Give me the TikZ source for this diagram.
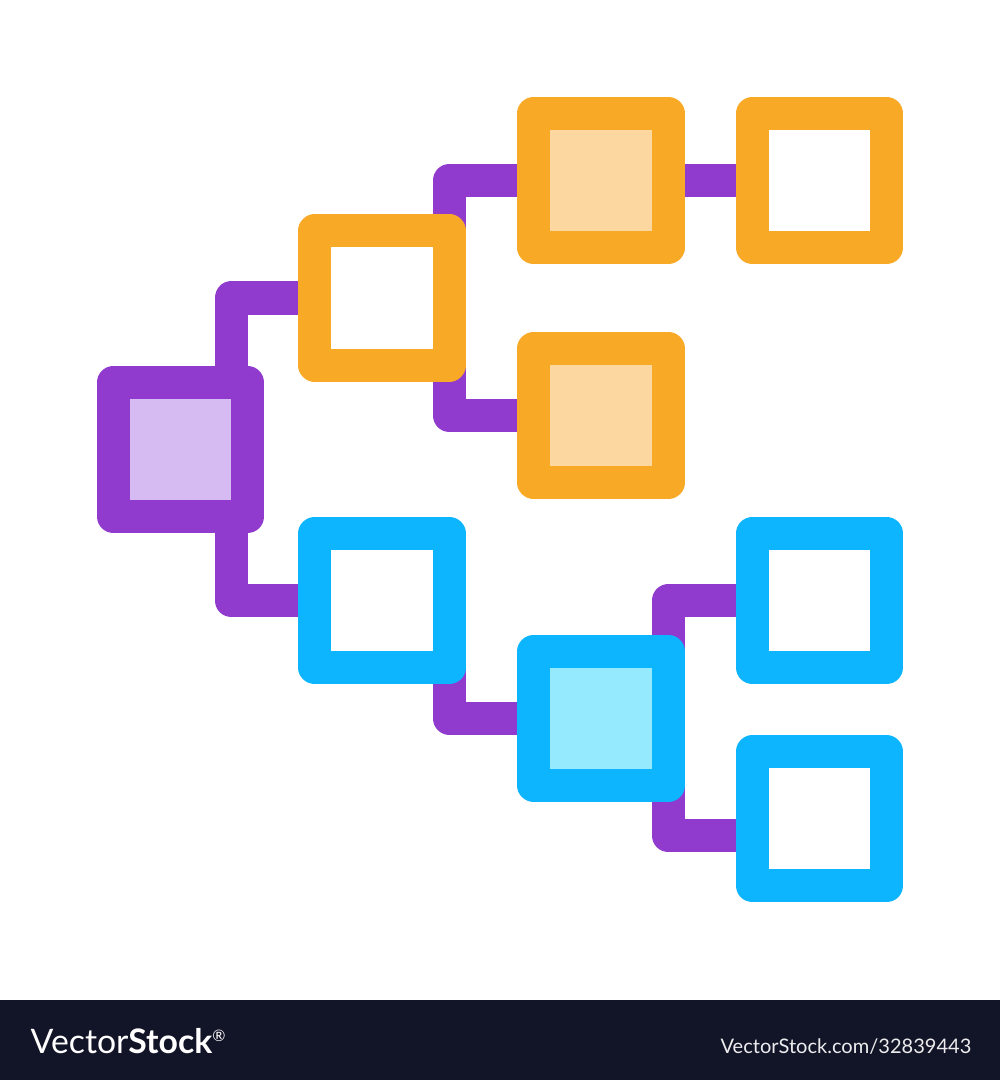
\documentclass[tikz,border=0pt]{standalone}
\usepackage{fontspec}
\setmainfont{Lato}
\usetikzlibrary{backgrounds}
\definecolor{lilac}{RGB}{145,59,206}
\definecolor{lilacpale}{RGB}{213,187,242}
\definecolor{amber}{RGB}{248,169,37}
\definecolor{amberpale}{RGB}{253,215,160}
\definecolor{sky}{RGB}{12,181,253}
\definecolor{skypale}{RGB}{150,234,254}
\definecolor{ink}{RGB}{18,20,39}
\tikzstyle{blk}=[shape=rectangle, line width=3.3mm, line join=round, minimum size=13.4mm, inner sep=0pt, outer sep=0pt]
\tikzstyle{lnk}=[draw=lilac, line width=3.3mm, line join=round]

\begin{document}
\begin{tikzpicture}[x=0.01cm,y=-0.01cm]
\useasboundingbox (0,0) rectangle (1000,1080);

\node (r0) [blk,draw=lilac,fill=lilacpale] at (180.5,449.5) {};
\node (o1) [blk,draw=amber,fill=white] at (382,298) {};
\node (o2) [blk,draw=amber,fill=amberpale] at (601,180.5) {};
\node (o3) [blk,draw=amber,fill=white] at (819.5,180.5) {};
\node (o4) [blk,draw=amber,fill=amberpale] at (601,415.5) {};
\node (b1) [blk,draw=sky,fill=white] at (382,600.5) {};
\node (b2) [blk,draw=sky,fill=skypale] at (601,718.3) {};
\node (b3) [blk,draw=sky,fill=white] at (819.5,600.5) {};
\node (b4) [blk,draw=sky,fill=white] at (819.5,818.8) {};

\begin{scope}[on background layer]
\fill[white] (0,0) rectangle (1000,1000);
\draw[lnk] (o1.center) -| ([xshift=5.05mm]r0.center);
\draw[lnk] (b1.center) -| ([xshift=5.05mm]r0.center);
\draw[lnk] (o2.center) -| ([xshift=6.73mm]o1.center);
\draw[lnk] (o4.center) -| ([xshift=6.73mm]o1.center);
\draw[lnk] (o2.center) -- (o3.center);
\draw[lnk] (b2.center) -| ([xshift=6.73mm]b1.center);
\draw[lnk] (b3.center) -| ([xshift=6.73mm]b2.center);
\draw[lnk] ([yshift=-1.7mm]b4.center) -| ([xshift=6.73mm]b2.center);
\end{scope}

% footer band
\fill[ink] (0,1000) rectangle (1000,1080);
\node (logo) [anchor=base west, inner sep=0pt, text=white, font=\fontsize{9.6pt}{12pt}\selectfont] at (30,1053) {Vector\textbf{Stock}\raisebox{3.2pt}{\fontsize{4.5pt}{5pt}\selectfont ®}};
\node (url) [anchor=base east, inner sep=0pt, text=white!92!ink, font=\fontsize{5.7pt}{7pt}\selectfont] at (972,1053) {VectorStock.com/32839443};

\end{tikzpicture}
\end{document}
